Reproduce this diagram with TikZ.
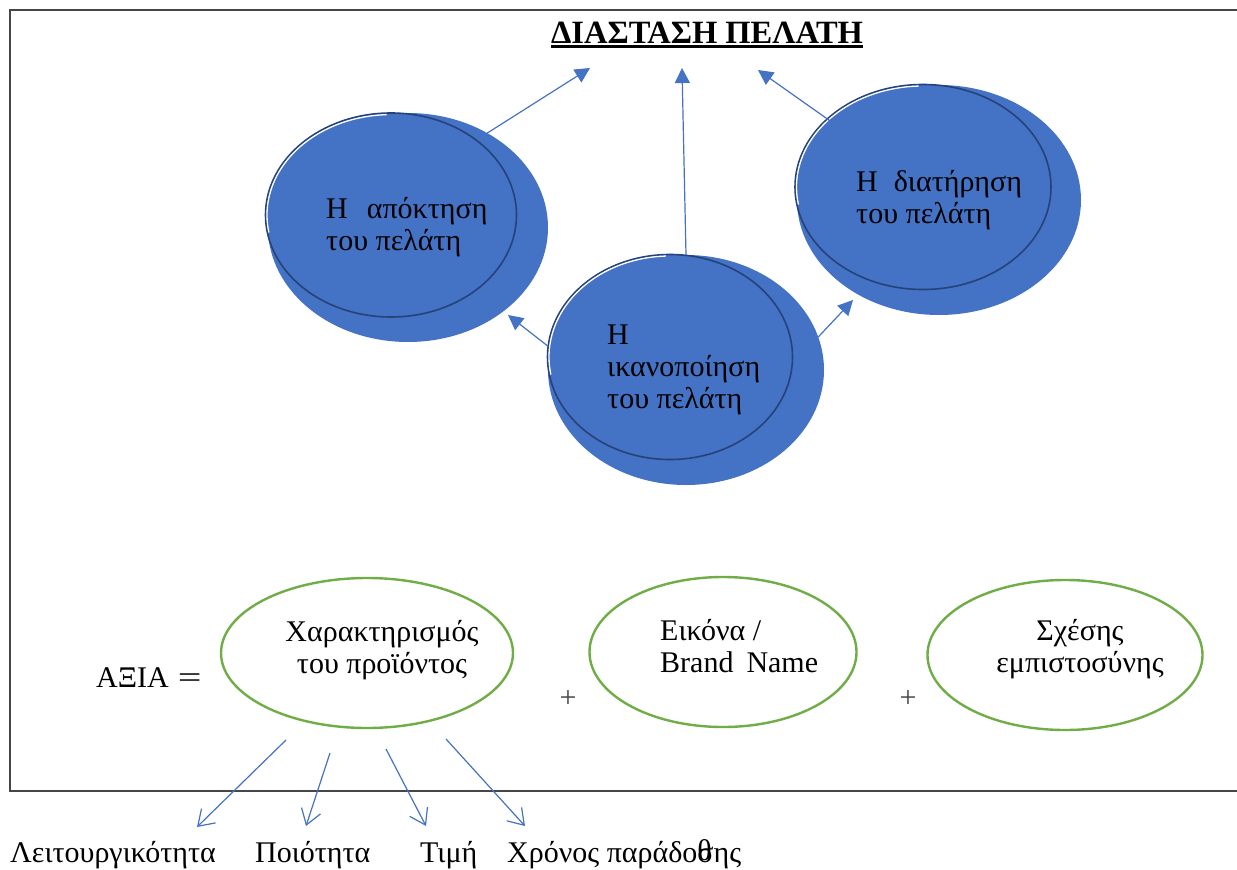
\documentclass[tikz,border=0pt]{standalone}
\usepackage{fontspec}
\setmainfont{Liberation Serif}
\usepackage{tikz}
\usetikzlibrary{shapes.geometric, arrows.meta, positioning}
\definecolor{myblue}{RGB}{68,114,196}
\definecolor{mynavy}{RGB}{38,66,122}
\definecolor{mygreen}{RGB}{112,173,71}
\definecolor{myframe}{RGB}{70,70,70}
\tikzset{
  backoval/.style={ellipse, fill=myblue, inner sep=0pt, outer sep=0pt},
  frontoval/.style={ellipse, fill=myblue, draw=mynavy, line width=1.6pt,
    inner sep=0pt, outer sep=0pt},
  greenoval/.style={ellipse, draw=mygreen, fill=white, line width=2.4pt,
    inner sep=0pt, outer sep=0pt},
  txt/.style={font=\fontsize{30}{32}\selectfont, inner sep=0pt},
  shine/.style={white, line width=1.3pt},
  arrow/.style={-{Triangle[length=15pt, width=15pt]}, line width=1.2pt, color=myblue},
  openarrow/.style={-{Straight Barb[length=15pt, width=20pt]}, line width=1.2pt, color=myblue}
}

\begin{document}
\begin{tikzpicture}[x=1pt, y=-1pt]
  \useasboundingbox (0,0) rectangle (1237,870);
  % frame
  \draw[myframe, line width=1.2pt] (1245,10) -- (10,10) -- (10,791) -- (1245,791);
  % title
  \node[font=\fontsize{32.5}{36}\selectfont\bfseries, inner sep=0pt, anchor=base] (title) at (707,43) {ΔΙΑΣΤΑΣΗ ΠΕΛΑΤΗ};
  \draw[line width=3.2pt] ([yshift=-3.5pt]title.base west) -- ([yshift=-3.5pt]title.base east);
  % blue ovals (shadow + front)
  \node[backoval, minimum width=280pt, minimum height=229pt] (acqb) at (408,227.5) {};
  \node[frontoval, minimum width=251pt, minimum height=204pt] (acq) at (391,215) {};
  \node[backoval, minimum width=276pt, minimum height=230pt] (satb) at (686,370) {};
  \node[frontoval, minimum width=245pt, minimum height=205pt] (sat) at (670,357) {};
  \node[backoval, minimum width=284pt, minimum height=230pt] (retb) at (939,200) {};
  \node[frontoval, minimum width=256pt, minimum height=205pt] (ret) at (923,187) {};
  \foreach \n/\rx/\ry in {acq/124/100.4, sat/121/101, ret/126.5/101}
    \draw[shine] ([shift={(-92:{\rx} and {\ry})}]\n.center) arc[start angle=-92, end angle=-190, x radius=\rx, y radius=\ry];
  \node[txt, anchor=base west, align=left] (acqtxt) at (326,250) {Η\hspace{19pt}απόκτηση\\του πελάτη};
  \node[txt, anchor=base west, align=left] (sattxt) at (607,408) {Η\\ικανοποίηση\\του πελάτη};
  \node[txt, anchor=base west, align=left] (rettxt) at (856,223) {Η\hspace{16pt}διατήρηση\\του πελάτη};
  % arrows to the title
  \coordinate (t1) at (590,68);
  \coordinate (t2) at (682,68);
  \coordinate (t3) at (758,70);
  \coordinate (s1) at (508,315);
  \coordinate (s2) at (853,300);
  \draw[arrow] (acqb.50) -- (t1);
  \draw[arrow] (satb.north) -- (t2);
  \draw[arrow] (retb.144) -- (t3);
  \draw[arrow] (sat.175) -- (s1);
  \draw[arrow] (satb.14) -- (s2);
  % value
  \node[txt, anchor=base west] (value) at (96,687) {ΑΞΙΑ\hspace{9pt}\scalebox{1.4}[1]{=}};
  \node[greenoval, minimum width=292pt, minimum height=150pt] (prod) at (367,653) {};
  \node[greenoval, minimum width=267pt, minimum height=150pt] (brand) at (723,652) {};
  \node[greenoval, minimum width=275pt, minimum height=150pt] (trust) at (1065,655) {};
  \node[txt, anchor=base, align=center] (prodtxt) at (382,673) {Χαρακτηρισμός\\του προϊόντος};
  \node[txt, anchor=base west, align=left] (brandtxt) at (660,672) {Εικόνα /\\Brand\hspace{13pt}Name};
  \node[txt, anchor=base, align=center] (trusttxt) at (1080,672) {Σχέσης\\εμπιστοσύνης};
  \node[txt, text=myframe] (plus1) at (568,699) {+};
  \node[txt, text=myframe] (plus2) at (908,699) {+};
  % features of the product
  \node[txt, anchor=base west] (func) at (10,862) {Λειτουργικότητα};
  \node[txt, anchor=base west] (qual) at (255,862) {Ποιότητα};
  \node[txt, anchor=base west] (price) at (420,862) {Τιμή};
  \node[txt, anchor=base west] (time) at (507,862) {Χρόνος παράδο\makebox[0pt][l]{\raisebox{1.5pt}{θ}}σης};
  \coordinate (f1) at (286,740);
  \coordinate (f2) at (330,753);
  \coordinate (f3) at (386,749);
  \coordinate (f4) at (446,739);
  \coordinate (g1) at (197,827);
  \coordinate (g2) at (306,826);
  \coordinate (g3) at (426,826);
  \coordinate (g4) at (525,826);
  \draw[openarrow] (f1) -- (g1);
  \draw[openarrow] (f2) -- (g2);
  \draw[openarrow] (f3) -- (g3);
  \draw[openarrow] (f4) -- (g4);
\end{tikzpicture}
\end{document}
